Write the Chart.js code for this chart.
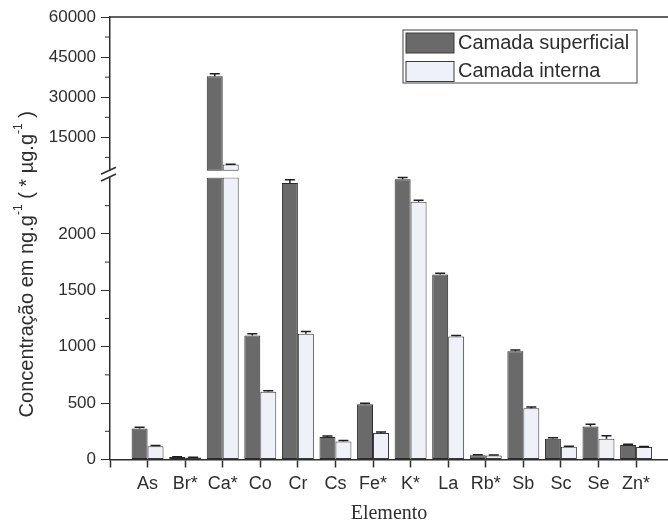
<!DOCTYPE html>
<html>
<head>
<meta charset="utf-8">
<script src="https://cdn.jsdelivr.net/npm/chart.js@4.4.1/dist/chart.umd.min.js"></script>
<style>
  html, body { margin: 0; padding: 0; background: #fff; }
</style>
</head>
<body>
<canvas id="elemChart" width="668" height="526"></canvas>
<script>
// concentrations per element (ng/g, elements marked * are in ug/g)
const elements = ['As', 'Br*', 'Ca*', 'Co', 'Cr', 'Cs', 'Fe*', 'K*', 'La', 'Rb*', 'Sb', 'Sc', 'Se', 'Zn*'];
const surface = [275, 22, 37800, 1100, 2450, 200, 490, 2485, 1640, 38, 960, 185, 292, 128];
const internal = [118, 18, 4800, 600, 1115, 160, 235, 2285, 1090, 36, 455, 112, 185, 110];
const surfaceErr = [10, 3, 1000, 15, 30, 8, 8, 15, 10, 3, 10, 8, 20, 8];
const internalErr = [6, 3, 150, 10, 20, 8, 8, 12, 10, 3, 10, 6, 25, 6];
const seriesNames = ['Camada superficial', 'Camada interna'];
const lowerTicks = [0, 500, 1000, 1500, 2000];
const upperTicks = [15000, 30000, 45000, 60000];
const BREAK_AT = 2500;
const TOP_MAX = 60000;

const SANS = "'Liberation Sans', Arial, sans-serif";
const SERIF = "'Liberation Serif', 'Times New Roman', serif";
const INK = '#2e2e2e';
const DARK_FILL = '#6a6a6a';
const LIGHT_FILL = '#eef2f8';

// below the break: clip to BREAK_AT, above the break: floating bar from BREAK_AT
const toLower = vals => vals.map((v, i) => ({ x: i + 1, y: Math.min(v, BREAK_AT) }));
const toUpper = vals => vals.map((v, i) => ({ x: i + 1, y: v > BREAK_AT ? [BREAK_AT, v] : null }));

function barStyle(fill, edge) {
    return {
        backgroundColor: fill,
        borderColor: edge,
        borderWidth: 1,
        borderSkipped: false,
        categoryPercentage: 0.85,
        barPercentage: 1
    };
}

// error bars, drawn on whichever half of the axis the bar ends in
const errorBars = {
    id: 'errorBars',
    afterDatasetsDraw(chart) {
        const ctx = chart.ctx;
        const lo = chart.scales.y, hi = chart.scales.yTop;
        chart.data.datasets.forEach((ds, di) => {
            if (!ds.errors) return;
            const meta = chart.getDatasetMeta(di);
            ds.values.forEach((v, i) => {
                const bar = meta.data[i];
                const sc = v > BREAK_AT ? hi : lo;
                const yTop = sc.getPixelForValue(v + ds.errors[i]);
                const yBot = sc.getPixelForValue(v);
                ctx.save();
                ctx.strokeStyle = '#1e1e1e';
                ctx.lineWidth = 1.5;
                ctx.beginPath();
                ctx.moveTo(bar.x, yBot);
                ctx.lineTo(bar.x, yTop);
                ctx.moveTo(bar.x - 5, yTop);
                ctx.lineTo(bar.x + 5, yTop);
                ctx.stroke();
                ctx.restore();
            });
        });
    }
};

// frame, minor ticks, axis break, y title and legend box
const decorations = {
    id: 'decorations',
    afterDraw(chart) {
        const ctx = chart.ctx;
        const area = chart.chartArea;
        const lo = chart.scales.y, hi = chart.scales.yTop;

        ctx.save();
        ctx.strokeStyle = INK;
        ctx.lineWidth = 1.5;
        ctx.beginPath();
        ctx.moveTo(area.left, area.top);
        ctx.lineTo(area.right, area.top);
        ctx.stroke();

        // minor ticks
        ctx.lineWidth = 1;
        ctx.beginPath();
        for (let v = 7500; v < TOP_MAX; v += 15000) {
            const py = hi.getPixelForValue(v);
            ctx.moveTo(area.left - 5, py);
            ctx.lineTo(area.left, py);
        }
        for (let v = 250; v < BREAK_AT; v += 500) {
            const py = lo.getPixelForValue(v);
            ctx.moveTo(area.left - 5, py);
            ctx.lineTo(area.left, py);
        }
        ctx.stroke();

        // axis break
        const b0 = hi.getPixelForValue(BREAK_AT);
        const b1 = lo.top;
        ctx.fillStyle = '#fff';
        ctx.fillRect(area.left - 3, b0, 6, b1 - b0);
        ctx.lineWidth = 1.5;
        ctx.beginPath();
        ctx.moveTo(area.left - 9, b0 + 3.5);
        ctx.lineTo(area.left + 6, b0 - 3.5);
        ctx.moveTo(area.left - 9, b1 + 3.5);
        ctx.lineTo(area.left + 6, b1 - 3.5);
        ctx.stroke();

        // y title with superscripts
        const parts = [
            ['Concentração em ng.g', 20, 0],
            ['-1', 12, -8],
            [' ( * µg.g', 20, 0],
            ['-1', 12, -8],
            [' )', 20, 0]
        ];
        ctx.fillStyle = INK;
        ctx.textBaseline = 'middle';
        ctx.textAlign = 'left';
        let total = 0;
        const widths = parts.map(p => {
            ctx.font = p[1] + 'px ' + SANS;
            const w = ctx.measureText(p[0]).width;
            total += w;
            return w;
        });
        ctx.translate(27, (area.top + area.bottom) / 2 + 26);
        ctx.rotate(-Math.PI / 2);
        let tx = -total / 2;
        parts.forEach((p, i) => {
            ctx.font = p[1] + 'px ' + SANS;
            ctx.fillText(p[0], tx, p[2]);
            tx += widths[i];
        });
        ctx.restore();

        // legend
        ctx.save();
        const lx = area.right - 265, ly = area.top + 13;
        ctx.strokeStyle = '#444';
        ctx.lineWidth = 1;
        ctx.strokeRect(lx, ly, 234, 53);
        const fills = [DARK_FILL, LIGHT_FILL];
        ctx.font = '20px ' + SANS;
        ctx.textBaseline = 'middle';
        seriesNames.forEach((name, i) => {
            const sy = ly + 3 + i * 28.5;
            ctx.fillStyle = fills[i];
            ctx.fillRect(lx + 3, sy, 48, 20);
            ctx.strokeStyle = '#3a3a3a';
            ctx.strokeRect(lx + 3, sy, 48, 20);
            ctx.fillStyle = INK;
            ctx.fillText(name, lx + 55, sy + 10);
        });
        ctx.restore();
    }
};

const ctx = document.getElementById('elemChart').getContext('2d');
const elemChart = new Chart(ctx, {
    type: 'bar',
    data: {
        datasets: [
            Object.assign({ label: seriesNames[0], data: toLower(surface), yAxisID: 'y', stack: 'sup',
                values: surface, errors: surfaceErr }, barStyle(DARK_FILL, '#2a2a2a')),
            Object.assign({ label: seriesNames[1], data: toLower(internal), yAxisID: 'y', stack: 'int',
                values: internal, errors: internalErr }, barStyle(LIGHT_FILL, '#3a3a3a')),
            Object.assign({ label: seriesNames[0], data: toUpper(surface), yAxisID: 'yTop', stack: 'sup' },
                barStyle(DARK_FILL, '#2a2a2a')),
            Object.assign({ label: seriesNames[1], data: toUpper(internal), yAxisID: 'yTop', stack: 'int' },
                barStyle(LIGHT_FILL, '#3a3a3a'))
        ]
    },
    options: {
        responsive: false,
        animation: false,
        devicePixelRatio: 1,
        layout: { padding: { top: 17, left: 0, right: 0, bottom: 0 } },
        plugins: {
            legend: { display: false },
            tooltip: { enabled: false }
        },
        scales: {
            x: {
                type: 'linear',
                min: 0,
                max: 14.85,
                offset: false,
                // one tick per element plus the corner one
                afterBuildTicks: s => { s.ticks = [0].concat(elements.map((e, i) => i + 1)).map(v => ({ value: v })); },
                afterFit: s => { s.height = 66.5; },
                ticks: {
                    autoSkip: false,
                    maxRotation: 0,
                    padding: 6,
                    color: INK,
                    font: { family: SANS, size: 18 },
                    callback: v => elements[v - 1] || ''
                },
                grid: { drawOnChartArea: false, offset: false, tickLength: 8, tickColor: INK, tickWidth: 1.5 },
                border: { color: INK, width: 1.5 },
                title: {
                    display: true,
                    text: 'Elemento',
                    color: INK,
                    font: { family: SERIF, size: 20 },
                    padding: { top: 0, bottom: 0 }
                }
            },
            y: {
                type: 'linear',
                position: 'left',
                stack: 'v',
                stackWeight: 281.25,
                weight: 0,
                stacked: false,
                min: 0,
                max: BREAK_AT,
                afterFit: s => { s.width = 110; },
                ticks: {
                    stepSize: 500,
                    autoSkip: false,
                    padding: 5,
                    color: INK,
                    font: { family: SANS, size: 17 },
                    callback: v => lowerTicks.includes(v) ? String(v) : ''
                },
                grid: {
                    drawOnChartArea: false,
                    tickLength: 9,
                    tickColor: c => lowerTicks.includes(c.tick.value) ? INK : 'rgba(0,0,0,0)'
                },
                border: { color: INK, width: 1.5 }
            },
            yTop: {
                type: 'linear',
                position: 'left',
                stack: 'v',
                stackWeight: 160,
                weight: 1,
                stacked: false,
                min: 0,
                max: TOP_MAX,
                afterFit: s => { s.width = 110; },
                ticks: {
                    stepSize: 15000,
                    autoSkip: false,
                    padding: 5,
                    color: INK,
                    font: { family: SANS, size: 17 },
                    callback: v => upperTicks.includes(v) ? String(v) : ''
                },
                grid: {
                    drawOnChartArea: false,
                    tickLength: 9,
                    tickColor: c => upperTicks.includes(c.tick.value) ? INK : 'rgba(0,0,0,0)'
                },
                border: { color: INK, width: 1.5 }
            }
        }
    },
    plugins: [errorBars, decorations]
});
</script>
</body>
</html>
